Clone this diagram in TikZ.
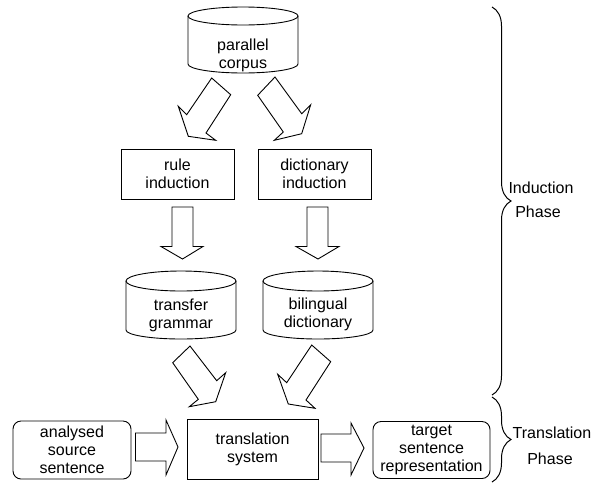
\documentclass[tikz,border=0pt]{standalone}
\usepackage{fontspec}
\setmainfont{Liberation Sans}
\usetikzlibrary{decorations.pathreplacing}
\begin{document}
\begin{tikzpicture}[x=1pt,y=-1pt, line width=0.9pt, line join=miter,
  lbl/.style={align=center, font=\fontsize{16}{18}\selectfont, inner sep=0pt},
  box/.style={lbl, draw, minimum width=113pt, minimum height=50pt},
  rbox/.style={lbl, draw, rounded corners=8pt},
  blockarrow/.style={draw, fill=white},
  phasebrace/.style={decorate, decoration={brace, amplitude=19pt}, line width=1pt}]
\useasboundingbox (0,0) rectangle (602,483);

% cylinders
\draw (188,16) -- (188,64) arc[start angle=180, end angle=360, x radius=55pt, y radius=9pt] -- (298,16);
\draw (243,16) ellipse [x radius=55pt, y radius=9pt];
\node[lbl] (corpus) at (243,55) {parallel\\corpus};

\draw (126,281) -- (126,330) arc[start angle=180, end angle=360, x radius=55pt, y radius=9pt] -- (236,281);
\draw (181,281) ellipse [x radius=55pt, y radius=10pt];
\node[lbl] (grammar) at (181,315) {transfer\\grammar};

\draw (263,281) -- (263,330) arc[start angle=180, end angle=360, x radius=55pt, y radius=9pt] -- (373,281);
\draw (318,281) ellipse [x radius=55pt, y radius=10pt];
\node[lbl] (dict) at (318,314) {bilingual\\dictionary};

% boxes
\node[box] (rule) at (177.5,174) {rule\\induction};
\node[box] (dictind) at (314.5,174) {dictionary\\induction};
\node[box, minimum width=131pt, minimum height=60pt] (trans) at (252.5,449) {translation\\system};
\node[rbox, minimum width=118pt, minimum height=58pt] (src) at (72,450) {analysed\\source\\sentence};
\node[rbox, minimum width=117pt, minimum height=57pt] (tgt) at (431.5,450) {target\\sentence\\representation};

% block arrows (diagonal)
\draw[blockarrow] (211.7,78) -- (230.7,94.7) -- (206,133) -- (215.7,140.3) -- (188.3,136.3) -- (178.3,106.3) -- (186.7,114.7) -- cycle;
\draw[blockarrow] (275,77) -- (257.7,95.3) -- (283.3,132) -- (274.3,140.3) -- (301.7,133.7) -- (310.7,104.7) -- (301.7,113.7) -- cycle;
\draw[blockarrow] (190,346) -- (172.7,362.7) -- (198.3,399.3) -- (189.3,406.7) -- (215.7,401.7) -- (225.7,372.7) -- (216.7,380.7) -- cycle;
\draw[blockarrow] (311.7,345) -- (330.7,361.7) -- (306,400) -- (315,408.3) -- (288.3,404) -- (277.7,374.3) -- (286.7,382.7) -- cycle;

% block arrows (vertical)
\draw[blockarrow] (172,207) -- (193,207) -- (193,246.5) -- (203,246.5) -- (182.5,259) -- (161,246.5) -- (172,246.5) -- cycle;
\draw[blockarrow] (307,207) -- (328,207) -- (328,246.5) -- (339,246.5) -- (318,259) -- (296,246.5) -- (307,246.5) -- cycle;

% block arrows (horizontal)
\draw[blockarrow] (135.5,433) -- (166,433) -- (166,420) -- (178,447) -- (166,475) -- (166,461) -- (135.5,461) -- cycle;
\draw[blockarrow] (321,434) -- (351,434) -- (351,423) -- (364,448) -- (351,475) -- (351,462) -- (321,462) -- cycle;

% braces
\coordinate (b1s) at (492,7);
\coordinate (b1e) at (492,395);
\coordinate (b2s) at (492,397);
\coordinate (b2e) at (492,482);
\draw[phasebrace] (b1s) -- (b1e);
\draw[phasebrace] (b2s) -- (b2e);
\node[lbl] (ind) at (541,188) {Induction};
\node[lbl] (ph1) at (538,212) {Phase};
\node[lbl] (tr) at (552,433) {Translation};
\node[lbl] (ph2) at (550,459) {Phase};
\end{tikzpicture}
\end{document}
